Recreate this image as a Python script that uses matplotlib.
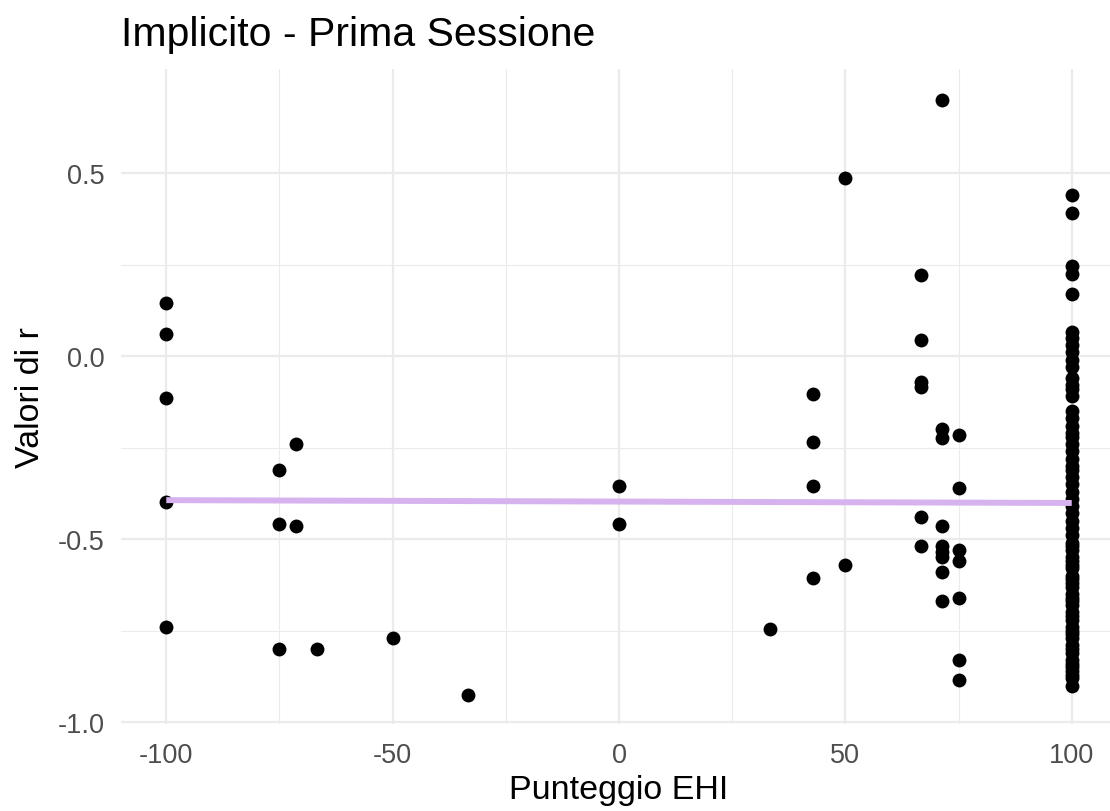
import numpy as np
import matplotlib
matplotlib.use('Agg')
import matplotlib.pyplot as plt

plt.rcParams['font.family'] = ['Liberation Sans', 'DejaVu Sans']

# EHI score groups and the r values read for each
ehi_neg100 = [0.145, 0.06, -0.115, -0.40, -0.74]
ehi_neg75 = [-0.31, -0.46, -0.80]
ehi_neg71 = [-0.24, -0.465]
ehi_neg67 = [-0.80]
ehi_neg50 = [-0.77]
ehi_neg33 = [-0.925]
ehi_0 = [-0.355, -0.46]
ehi_33 = [-0.745]
ehi_43 = [-0.105, -0.235, -0.355, -0.605]
ehi_50 = [0.485, -0.57]
ehi_67 = [0.22, 0.045, -0.07, -0.085, -0.44, -0.52]
ehi_71 = [0.70, -0.20, -0.225, -0.465, -0.52, -0.535, -0.55, -0.59, -0.67]
ehi_75 = [-0.215, -0.36, -0.53, -0.56, -0.66, -0.83, -0.885]
ehi_100 = [0.44, 0.39, 0.245, 0.225, 0.17, 0.065, 0.05, 0.03, 0.01, -0.01,
           -0.03, -0.06, -0.08, -0.09, -0.11, -0.15, -0.17, -0.19, -0.21, -0.22,
           -0.24, -0.26, -0.28, -0.30, -0.31, -0.33, -0.35, -0.37, -0.39, -0.41,
           -0.43, -0.45, -0.47, -0.49, -0.51, -0.52, -0.53, -0.55, -0.56, -0.57,
           -0.58, -0.60, -0.61, -0.62, -0.63, -0.65, -0.66, -0.67, -0.68, -0.70,
           -0.71, -0.72, -0.74, -0.75, -0.76, -0.77, -0.79, -0.80, -0.81, -0.83,
           -0.84, -0.85, -0.86, -0.87, -0.88, -0.90]

groups = [(-100, ehi_neg100), (-75, ehi_neg75), (-71.4, ehi_neg71), (-66.7, ehi_neg67),
          (-50, ehi_neg50), (-33.3, ehi_neg33), (0, ehi_0), (33.3, ehi_33),
          (42.9, ehi_43), (50, ehi_50), (66.7, ehi_67), (71.4, ehi_71),
          (75, ehi_75), (100, ehi_100)]

x_ticks = [-100, -50, 0, 50, 100]
y_ticks = [-1.0, -0.5, 0.0, 0.5]

xs = np.concatenate([[g] * len(v) for g, v in groups])
ys = np.concatenate([v for g, v in groups])

W, H = 1110, 812
fig = plt.figure(figsize=(W / 100, H / 100), dpi=100)
ax = fig.add_axes([121 / W, (H - 725) / H, 996 / W, 655 / H])

grid_col = '#EBEBEB'
for v in [-75, -25, 25, 75]:
    ax.axvline(v, color=grid_col, lw=0.8, zorder=0)
for v in [-0.75, -0.25, 0.25]:
    ax.axhline(v, color=grid_col, lw=0.8, zorder=0)
for v in x_ticks:
    ax.axvline(v, color=grid_col, lw=1.6, zorder=0)
for v in y_ticks:
    ax.axhline(v, color=grid_col, lw=1.6, zorder=0)

ax.scatter(xs, ys, s=100, color='black', lw=0, zorder=2)

# linear fit
slope, icpt = np.polyfit(xs, ys, 1)
fx = np.array([xs.min(), xs.max()])
ax.plot(fx, icpt + slope * fx, color='#D6B3EF', lw=4.3, zorder=3, solid_capstyle='butt')

ax.set_xlim(-110, 110)
ax.set_ylim(-1.005, 0.784)
ax.set_xticks(x_ticks)
ax.set_xticklabels(['-100', '-50', '0', '50', '100'])
ax.set_yticks(y_ticks)
ax.set_yticklabels(['-1.0', '-0.5', '0.0', '0.5'])
ax.tick_params(length=0, labelsize=19.5, labelcolor='#4D4D4D')
ax.tick_params(axis='x', pad=13)
ax.tick_params(axis='y', pad=12)
for s in ax.spines.values():
    s.set_visible(False)

ax.set_xlabel('Punteggio EHI', fontsize=24.5, labelpad=4)
ax.set_ylabel('Valori di r', fontsize=24.5, labelpad=8)
fig.text(121 / W, 1 - 35 / H, 'Implicito - Prima Sessione', fontsize=29.5, va='center', ha='left')

fig.savefig('out.png', dpi=100)
